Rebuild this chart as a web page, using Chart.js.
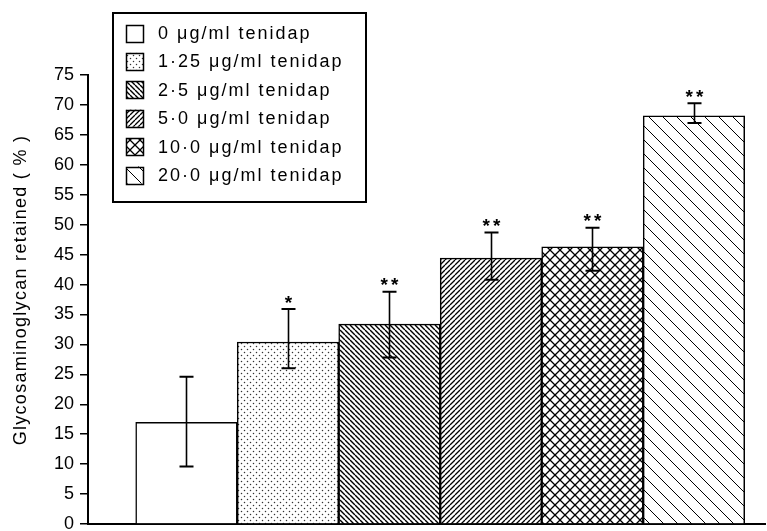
<!DOCTYPE html>
<html>
<head>
<meta charset="utf-8">
<script src="https://cdn.jsdelivr.net/npm/chart.js@4"></script>
<style>
  html, body { margin: 0; padding: 0; background: #fff; }
  #wrap { width: 767px; height: 531px; }
</style>
</head>
<body>
<div id="wrap"><canvas id="gagChart" width="767" height="531"></canvas></div>
<script>
// tenidap dose groups (µg/ml)
const doses = ['0', '1·25', '2·5', '5·0', '10·0', '20·0'];
// glycosaminoglycan retained (%) and error bar ends
const retained = [17.0, 30.4, 33.4, 44.4, 46.3, 68.2];
const errLow = [9.6, 26.0, 27.8, 40.8, 42.3, 67.0];
const errHigh = [24.6, 35.9, 38.8, 48.7, 49.5, 70.3];
const stars = ['', '*', '**', '**', '**', '**'];
// y axis ticks
const yMin = 0, yMax = 75, yStep = 5;

const FONT = '"Liberation Sans", Arial, Helvetica, sans-serif';

function tile(n) {
    const c = document.createElement('canvas');
    c.width = n; c.height = n;
    const g = c.getContext('2d');
    g.fillStyle = '#fff';
    g.fillRect(0, 0, n, n);
    return [c, g];
}

// diagonal lines, dir 'back' = \\\ and 'fwd' = ///
function hatch(n, lw, dirs) {
    const [c, g] = tile(n);
    g.strokeStyle = '#000';
    g.lineWidth = lw;
    dirs.forEach(dir => {
        g.beginPath();
        for (let k = -1; k <= 1; k++) {
            if (dir === 'back') { g.moveTo(k * n, 0); g.lineTo(k * n + n, n); }
            else { g.moveTo(k * n, n); g.lineTo(k * n + n, 0); }
        }
        g.stroke();
    });
    return g.createPattern(c, 'repeat');
}

function dots() {
    const [c, g] = tile(6);
    g.fillStyle = '#333';
    [[1.5, 1.5], [4.5, 4.5]].forEach(p => {
        g.beginPath();
        g.arc(p[0], p[1], 0.75, 0, Math.PI * 2);
        g.fill();
    });
    return g.createPattern(c, 'repeat');
}

const fills = [
    '#fff',
    dots(),
    hatch(5, 1.4, ['back']),
    hatch(5, 1.3, ['fwd']),
    hatch(10, 1.3, ['back', 'fwd']),
    hatch(14, 1.0, ['back'])
];

const overlay = {
    id: 'overlay',
    afterDatasetsDraw(chart) {
        const ctx = chart.ctx;
        const x = chart.scales.x, y = chart.scales.y;
        ctx.save();
        // error bars
        ctx.strokeStyle = '#000';
        retained.forEach((v, i) => {
            const px = Math.round(x.getPixelForValue(i)) + 0.5;
            const top = y.getPixelForValue(errHigh[i]);
            const bot = y.getPixelForValue(errLow[i]);
            ctx.lineWidth = 1.6;
            ctx.beginPath();
            ctx.moveTo(px, top); ctx.lineTo(px, bot);
            ctx.stroke();
            ctx.lineWidth = 2;
            ctx.beginPath();
            ctx.moveTo(px - 7, top); ctx.lineTo(px + 7, top);
            ctx.moveTo(px - 7, bot); ctx.lineTo(px + 7, bot);
            ctx.stroke();
            // significance stars
            if (stars[i]) {
                ctx.fillStyle = '#000';
                ctx.font = 'bold 19px ' + FONT;
                ctx.letterSpacing = '3px';
                ctx.textAlign = 'center';
                ctx.textBaseline = 'alphabetic';
                ctx.fillText(stars[i], px + 1.5, top - 0.5);
            }
        });

        // legend box
        const lx = 113, ly = 13, lw = 253, lh = 189;
        ctx.fillStyle = '#fff';
        ctx.fillRect(lx, ly, lw, lh);
        ctx.lineWidth = 2;
        ctx.strokeStyle = '#000';
        ctx.strokeRect(lx, ly, lw, lh);
        ctx.font = '18px ' + FONT;
        ctx.letterSpacing = '2px';
        ctx.textAlign = 'left';
        ctx.textBaseline = 'middle';
        doses.forEach((d, i) => {
            const cy = 33 + i * 28.4;
            ctx.fillStyle = fills[i];
            ctx.fillRect(126, cy - 8.5, 17, 17);
            ctx.lineWidth = 1.5;
            ctx.strokeRect(126.5, Math.round(cy - 8.5) + 0.5, 17, 17);
            ctx.fillStyle = '#000';
            ctx.fillText(d + ' μg/ml tenidap', 158, cy + 1);
        });

        // y axis title
        ctx.translate(21, 290);
        ctx.rotate(-Math.PI / 2);
        ctx.font = '18px ' + FONT;
        ctx.letterSpacing = '1.3px';
        ctx.textAlign = 'center';
        ctx.textBaseline = 'middle';
        ctx.fillStyle = '#000';
        ctx.fillText('Glycosaminoglycan retained ( % )', 0, 0);
        ctx.restore();
    }
};

new Chart(document.getElementById('gagChart'), {
    type: 'bar',
    data: {
        datasets: [{
            data: retained.map((v, i) => ({ x: i, y: v })),
            backgroundColor: fills,
            borderColor: '#000',
            borderWidth: 1.5,
            barPercentage: 1,
            categoryPercentage: 1
        }]
    },
    options: {
        responsive: false,
        animation: false,
        events: [],
        layout: { padding: { top: 75, right: 2, bottom: 7, left: 0 } },
        plugins: { legend: { display: false }, tooltip: { enabled: false } },
        scales: {
            x: {
                type: 'linear',
                offset: false,
                min: -0.97,
                max: 5.7,
                ticks: { display: false },
                grid: { offset: false, drawOnChartArea: false, drawTicks: false },
                border: { display: true, color: '#000', width: 2 },
                afterBuildTicks: s => { s.ticks = retained.map((v, i) => ({ value: i })); },
                afterFit: s => { s.height = 0; s.paddingLeft = 0; s.paddingRight = 0; }
            },
            y: {
                min: yMin,
                max: yMax,
                ticks: {
                    stepSize: yStep,
                    color: '#000',
                    padding: 6,
                    font: { family: FONT, size: 18 }
                },
                grid: { drawOnChartArea: false, drawTicks: true, tickLength: 8, color: '#000', lineWidth: 1.5 },
                border: { display: true, color: '#000', width: 2 },
                afterFit: s => { s.width = 88; s.paddingTop = 0; s.paddingBottom = 0; }
            }
        }
    },
    plugins: [overlay]
});
</script>
</body>
</html>
